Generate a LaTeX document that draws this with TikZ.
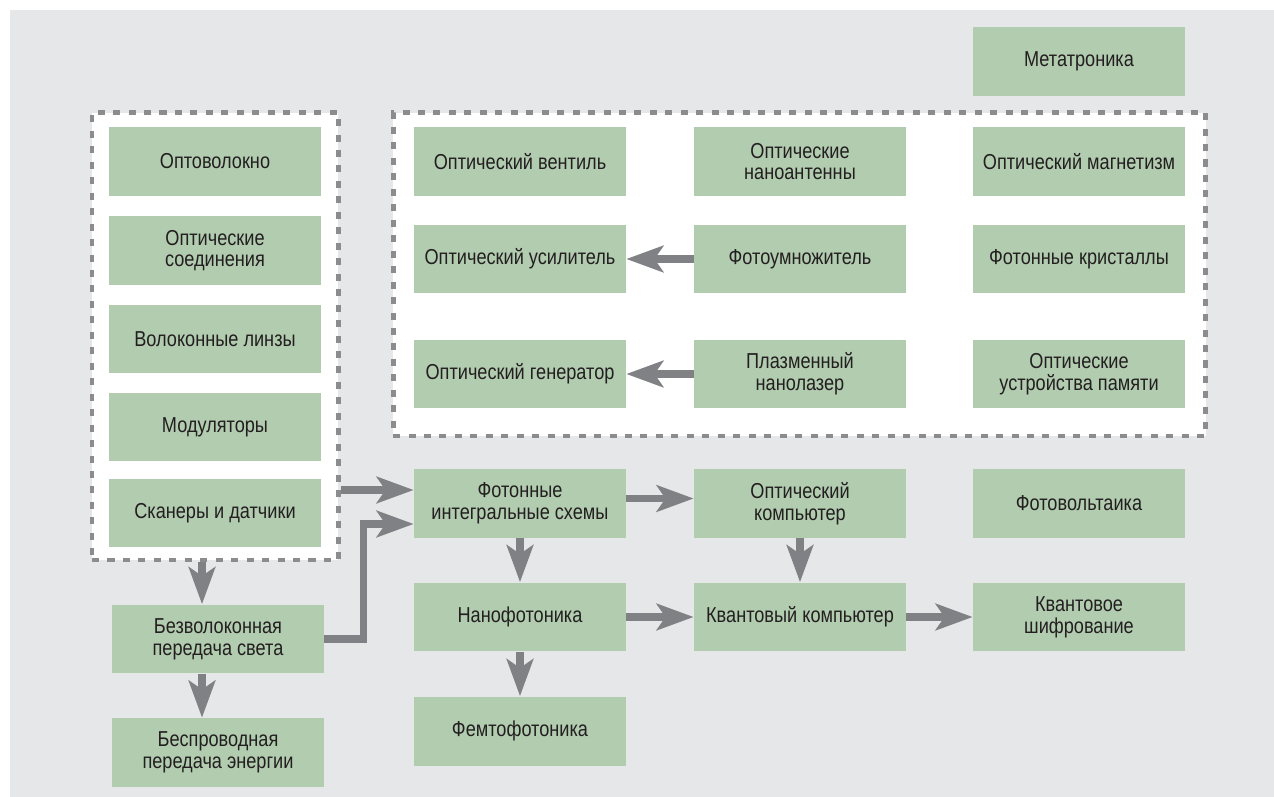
\documentclass[tikz,border=0pt]{standalone}
\usepackage{fontspec}
\setmainfont[FakeStretch=0.84]{Liberation Sans}
\usetikzlibrary{arrows.meta}
\definecolor{boxgreen}{HTML}{B2CCB0}
\definecolor{bggray}{HTML}{E6E7E9}
\definecolor{arrgray}{HTML}{808184}
\definecolor{framegray}{HTML}{8C8C8E}
\definecolor{txtdark}{HTML}{231F20}

\begin{document}
\begin{tikzpicture}[x=0.02cm, y=-0.02cm,
    box/.style={fill=boxgreen, rectangle, minimum width=4.24cm, minimum height=1.38cm, inner sep=0pt, align=center, text=txtdark, font=\fontsize{12.3}{12.3}\selectfont},
    frame/.style={draw=framegray, fill=white, line width=2.8pt, dash pattern=on 4pt off 4.8pt, inner sep=0pt},
    arr/.style={-{Stealth[length=21pt, width=15pt, inset=5pt]}, draw=arrgray, line width=0.15cm}]
    \useasboundingbox (0,0) rectangle (1274,797);
    \fill[bggray] (10,10) rectangle (1274,797);

    % Dashed groups
    \node (frameL) at (215.25,336.25) [frame, minimum width=4.93cm, minimum height=8.95cm] {};
    \node (frameT) at (799.5,274.25) [frame, minimum width=16.26cm, minimum height=6.47cm] {};

    % Fibre column
    \node (fibre) at (215,161.5) [box] {Оптоволокно};
    \node (joint) at (215,250.5) [box] {Оптические\\соединения};
    \node (lens) at (215,339) [box] {Волоконные линзы};
    \node (modul) at (215,427) [box] {Модуляторы};
    \node (scan) at (215,513) [box] {Сканеры и датчики};
    \node (bez) at (218,639) [box] {Безволоконная\\передача света};
    \node (bes) at (218,752.5) [box] {Беспроводная\\передача энергии};

    % Optical devices
    \node (meta) at (1079,61.5) [box] {Метатроника};
    \node (valve) at (520,161.5) [box] {Оптический вентиль};
    \node (ant) at (800,161.5) [box] {Оптические\\наноантенны};
    \node (magn) at (1079,161.5) [box] {Оптический магнетизм};
    \node (amp) at (520,259) [box] {Оптический усилитель};
    \node (mult) at (800,259) [box] {Фотоумножитель};
    \node (cryst) at (1079,259) [box] {Фотонные кристаллы};
    \node (gen) at (520,374) [box] {Оптический генератор};
    \node (plasma) at (800,374) [box] {Плазменный\\нанолазер};
    \node (mem) at (1079,374) [box] {Оптические\\устройства памяти};

    % Lower part
    \node (fic) at (520,503.5) [box] {Фотонные\\интегральные схемы};
    \node (optc) at (800,503.5) [box] {Оптический\\компьютер};
    \node (pv) at (1079,503.5) [box] {Фотовольтаика};
    \node (nano) at (520,617) [box] {Нанофотоника};
    \node (qc) at (800,617) [box] {Квантовый компьютер};
    \node (qcrypt) at (1079,617) [box] {Квантовое\\шифрование};
    \node (femto) at (520,731) [box] {Фемтофотоника};

    % Arrows
    \draw[arr] (mult) -- (amp);
    \draw[arr] (plasma) -- (gen);
    \draw[arr] ([xshift=-0.32cm]bez.north |- frameL.south) -- ([xshift=-0.32cm]bez.north);
    \draw[arr] ([xshift=-0.32cm]bez.south) -- ([xshift=-0.32cm]bes.north);
    \draw[arr] (bez.east) -- ++(39,0) |- ([yshift=-0.41cm]fic.west);
    \draw[arr] ([yshift=0.27cm]fic.west -| frameL.east) -- ([yshift=0.27cm]fic.west);
    \draw[arr] ([yshift=0.1cm]fic.east) -- ([yshift=0.1cm]optc.west);
    \draw[arr] (fic) -- (nano);
    \draw[arr] (optc) -- (qc);
    \draw[arr] (nano) -- (qc);
    \draw[arr] (qc) -- (qcrypt);
    \draw[arr] (nano) -- (femto);
\end{tikzpicture}
\end{document}
